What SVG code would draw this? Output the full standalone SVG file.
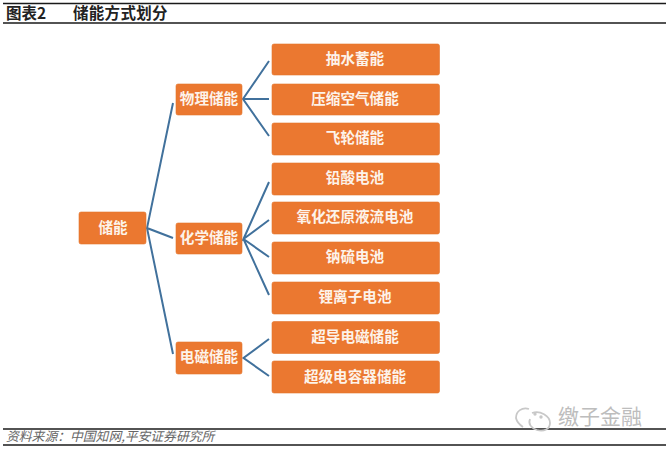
<svg xmlns="http://www.w3.org/2000/svg" width="666" height="449" viewBox="0 0 666 449">
<style>
.n{fill:#eb7830;stroke:#e2762d;stroke-width:.6}
.t{font-family:"Noto Sans CJK SC","Liberation Sans",sans-serif;font-weight:700;font-size:14.600px;fill:#fdf3ea;text-anchor:middle;dominant-baseline:central}
.c{fill:none;stroke:#41719c;stroke-width:2;stroke-linejoin:miter}
.r{stroke:#1a1a1a;stroke-width:1.3}
.h{font-family:"Noto Sans CJK SC","Liberation Sans",sans-serif;font-weight:700;font-size:15.500px;fill:#222}
</style>
<rect width="666" height="449" fill="#fff"/>
<g id="header">
<line class="r" x1="3" y1="3.5" x2="666" y2="3.5"/>
<line class="r" x1="3" y1="23" x2="666" y2="23"/>
<text class="h" x="6" y="19">图表2</text>
<text class="h" x="73" y="19" letter-spacing=".3">储能方式划分</text>
</g>
<g id="connectors">
<path class="c" d="M173 103L147 228L173 238M147 228L173 354"/>
<path class="c" d="M269 61L243 99L269 136M243 99H269"/>
<path class="c" d="M269 182L243.500 239L269 220M243.500 239L269 257M243.500 239L269 295"/>
<path class="c" d="M269 339L243.500 358L269 376"/>
</g>
<g id="n-root"><rect class="n" x="79" y="212" width="67" height="32" rx="2"/><text class="t" x="113" y="226">储能</text></g>
<g id="n-phys"><rect class="n" x="176" y="84" width="66" height="31" rx="2"/><text class="t" x="209" y="97">物理储能</text></g>
<g id="n-chem"><rect class="n" x="176" y="223" width="66" height="31" rx="2"/><text class="t" x="209" y="236">化学储能</text></g>
<g id="n-elec"><rect class="n" x="176" y="342" width="66" height="32" rx="2"/><text class="t" x="209" y="355">电磁储能</text></g>
<g id="n-l1"><rect class="n" x="272" y="44" width="167.500" height="31" rx="2"/><text class="t" x="355" y="57">抽水蓄能</text></g>
<g id="n-l2"><rect class="n" x="272" y="84" width="167.500" height="31" rx="2"/><text class="t" x="355" y="97">压缩空气储能</text></g>
<g id="n-l3"><rect class="n" x="272" y="123" width="167.500" height="32" rx="2"/><text class="t" x="355" y="136">飞轮储能</text></g>
<g id="n-l4"><rect class="n" x="272" y="163" width="167.500" height="32" rx="2"/><text class="t" x="355" y="176">铅酸电池</text></g>
<g id="n-l5"><rect class="n" x="272" y="202" width="167.500" height="32" rx="2"/><text class="t" x="355" y="215">氧化还原液流电池</text></g>
<g id="n-l6"><rect class="n" x="272" y="242" width="167.500" height="32" rx="2"/><text class="t" x="355" y="255">钠硫电池</text></g>
<g id="n-l7"><rect class="n" x="272" y="282" width="167.500" height="32" rx="2"/><text class="t" x="355" y="295">锂离子电池</text></g>
<g id="n-l8"><rect class="n" x="272" y="321.500" width="167.500" height="32" rx="2"/><text class="t" x="355" y="335">超导电磁储能</text></g>
<g id="n-l9"><rect class="n" x="272" y="361" width="167.500" height="32" rx="2"/><text class="t" x="355" y="375">超级电容器储能</text></g>
<g id="footer">
<line class="r" x1="3" y1="429" x2="666" y2="429"/>
<line class="r" x1="3" y1="445" x2="666" y2="445"/>
<text x="6" y="441" font-family="'Noto Sans CJK SC','Liberation Sans',sans-serif" font-size="12.800" font-style="italic" fill="#666">资料来源：中国知网,平安证券研究所</text>
</g>
<g id="watermark" fill="none" stroke="#c8c8c8" stroke-width="1.800">
<path d="M529 409C522 407 516 411 516 418C517 423 520 425 523 427"/>
<path d="M532 413C540 410 550 416 550 423C550 429 544 432 537 430C531 428 528 424 530 419"/>
<circle cx="535" cy="414" r=".8"/><circle cx="541" cy="417" r=".8"/>
<text x="558" y="424" font-family="'Noto Sans CJK SC',sans-serif" font-size="21" fill="#bdbdbd" stroke="none">缴子金融</text>
</g>
</svg>
